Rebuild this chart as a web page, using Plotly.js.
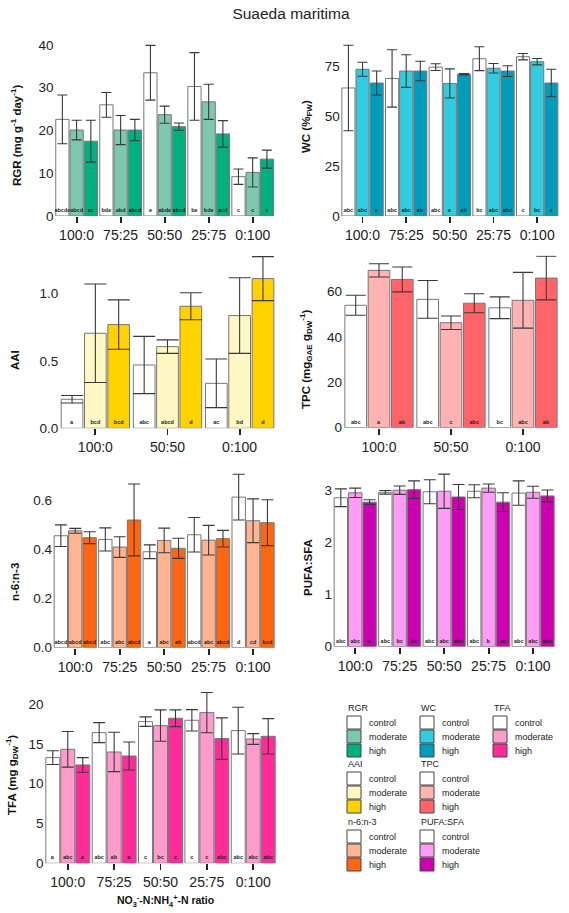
<!DOCTYPE html>
<html>
<head>
<meta charset="utf-8">
<script src="https://cdn.plot.ly/plotly-3.0.1.min.js"></script>
<style>
  html, body { margin: 0; padding: 0; background: #fff; }
  #chart { width: 569px; height: 913px; }
</style>
</head>
<body>
<div id="chart"></div>
<script>
const W = 569, H = 913;

// categories
const groups5 = ['100:0', '75:25', '50:50', '25:75', '0:100'];
const groups3 = ['100:0', '50:50', '0:100'];
const levels = ['control', 'moderate', 'high'];

// each variable: rows = control, moderate, high
const rgrMean = [[22.6, 26.0, 33.5, 30.3, 9.2], [20.1, 20.1, 23.7, 26.7, 10.2], [17.5, 20.1, 20.9, 19.2, 13.3]];
const rgrErr = [[5.7, 2.9, 6.4, 7.9, 1.8], [2.3, 3.4, 2.0, 4.1, 3.4], [4.9, 2.5, 0.85, 3.1, 2.1]];
const rgrLetters = [['abcde', 'bde', 'e', 'be', 'c'], ['abcd', 'abd', 'abde', 'bde', 'c'], ['ac', 'abcd', 'abcd', 'acd', 'c']];

const wcMean = [[64.3, 69.1, 74.8, 79.0, 80.0], [73.7, 72.8, 66.6, 74.2, 77.5], [66.8, 72.8, 71.2, 72.8, 66.8]];
const wcErr = [[21.5, 14.4, 1.7, 6.0, 1.6], [3.5, 8.2, 7.3, 2.4, 1.6], [6.0, 4.9, 0.3, 2.7, 6.9]];
const wcLetters = [['abc', 'abc', 'abc', 'bc', 'c'], ['abc', 'abc', 'a', 'abc', 'bc'], ['a', 'ab', 'ab', 'abc', 'a']];

const aaiMean = [[0.215, 0.469, 0.333], [0.704, 0.605, 0.835], [0.768, 0.904, 1.109]];
const aaiErr = [[0.028, 0.212, 0.18], [0.365, 0.05, 0.28], [0.183, 0.1, 0.163]];
const aaiLetters = [['a', 'abc', 'ac'], ['bcd', 'abcd', 'bd'], ['bcd', 'd', 'd']];

const tpcMean = [[54.0, 56.6, 52.9], [69.4, 46.3, 56.2], [65.4, 54.9, 66.0]];
const tpcErr = [[4.4, 8.3, 4.8], [2.9, 3.0, 12.3], [5.5, 4.2, 9.6]];
const tpcLetters = [['abc', 'abc', 'bc'], ['a', 'c', 'abc'], ['ab', 'abc', 'ab']];

const n6n3Mean = [[0.455, 0.440, 0.390, 0.459, 0.612], [0.475, 0.409, 0.436, 0.437, 0.516], [0.447, 0.519, 0.404, 0.443, 0.508]];
const n6n3Err = [[0.044, 0.047, 0.028, 0.070, 0.093], [0.010, 0.042, 0.050, 0.060, 0.089], [0.024, 0.146, 0.041, 0.034, 0.093]];
const n6n3Letters = [['abcd', 'abc', 'a', 'abcd', 'd'], ['abcd', 'abc', 'abc', 'abc', 'cd'], ['abcd', 'abcd', 'ab', 'abcd', 'bcd']];

const pufaMean = [[2.865, 2.97, 2.98, 2.99, 2.955], [2.96, 3.01, 2.99, 3.05, 2.97], [2.78, 3.02, 2.88, 2.78, 2.90]];
const pufaErr = [[0.17, 0.035, 0.23, 0.125, 0.235], [0.09, 0.08, 0.33, 0.08, 0.115], [0.045, 0.17, 0.24, 0.18, 0.115]];
const pufaLetters = [['abc', 'abc', 'abc', 'abc', 'abc'], ['abc', 'bc', 'abc', 'b', 'abc'], ['a', 'bc', 'abc', 'ac', 'abc']];

const tfaMean = [[13.26, 16.40, 17.78, 17.95, 16.65], [14.31, 13.97, 17.28, 18.91, 15.6], [12.34, 13.47, 18.2, 15.65, 15.94]];
const tfaErr = [[0.86, 1.26, 0.6, 1.34, 2.93], [2.24, 2.47, 1.97, 2.53, 0.67], [0.92, 1.76, 1.05, 2.6, 2.22]];
const tfaLetters = [['a', 'abc', 'c', 'c', 'abc'], ['abc', 'ab', 'bc', 'c', 'abc'], ['a', 'a', 'c', 'abc', 'abc']];

// colours per variable: control, moderate, high
const rgrColors = ['#ffffff', '#7fc8b0', '#00b07f'];
const wcColors = ['#ffffff', '#33cbe0', '#009cbc'];
const aaiColors = ['#ffffff', '#fff8c4', '#ffd200'];
const tpcColors = ['#ffffff', '#ffb3b3', '#ff6468'];
const n6n3Colors = ['#ffffff', '#ffb592', '#ff6614'];
const pufaColors = ['#ffffff', '#ff9cf5', '#cc00b0'];
const tfaColors = ['#ffffff', '#ff9ccc', '#ff2b98'];

const FONT = 'Liberation Sans, Arial, sans-serif';

// pixel helpers (margins are zero, so paper == page)
const px = v => v / W;
const py = v => 1 - v / H;

// panel geometry: plot area in page pixels [left, right, top, bottom]
const panels = [
    {name: 'RGR', cats: groups5, mean: rgrMean, err: rgrErr, letters: rgrLetters, colors: rgrColors,
     box: [54.6, 274.7, 40.7, 216], range: [0, 41], tickvals: [0, 10, 20, 30, 40], fmt: '',
     title: '<b>RGR (mg g<sup>-1</sup> day<sup>-1</sup>)</b>', tpos: [16, 136], cap: 5},
    {name: 'WC', cats: groups5, mean: wcMean, err: wcErr, letters: wcLetters, colors: wcColors,
     box: [340.7, 559, 40.8, 216], range: [0, 88], tickvals: [0, 25, 50, 75], fmt: '',
     title: '<b>WC (%<sub>FW</sub>)</b>', tpos: [307, 127], cap: 5},
    {name: 'AAI', cats: groups3, mean: aaiMean, err: aaiErr, letters: aaiLetters, colors: aaiColors,
     box: [59.3, 275.7, 255.5, 428.3], range: [0, 1.28], tickvals: [0, 0.5, 1.0], fmt: '.1f',
     title: '<b>AAI</b>', tpos: [15, 360], cap: 11},
    {name: 'TPC', cats: groups3, mean: tpcMean, err: tpcErr, letters: tpcLetters, colors: tpcColors,
     box: [343, 559, 255.4, 427.7], range: [0, 76], tickvals: [0, 20, 40, 60], fmt: '',
     title: '<b>TPC (mg<sub>GAE</sub> g<sub>DW</sub><sup>-1</sup>)</b>', tpos: [306, 359], cap: 10},
    {name: 'n-6:n-3', cats: groups5, mean: n6n3Mean, err: n6n3Err, letters: n6n3Letters, colors: n6n3Colors,
     box: [53, 275.3, 473, 647.7], range: [0, 0.71], tickvals: [0, 0.2, 0.4, 0.6], fmt: '.1f',
     title: '<b>n-6:n-3</b>', tpos: [15, 582], cap: 6},
    {name: 'PUFA:SFA', cats: groups5, mean: pufaMean, err: pufaErr, letters: pufaLetters, colors: pufaColors,
     box: [333, 555.3, 472, 646.7], range: [0, 3.36], tickvals: [0, 1, 2, 3], fmt: '',
     title: '<b>PUFA:SFA</b>', tpos: [308, 568], cap: 6},
    {name: 'TFA', cats: groups5, mean: tfaMean, err: tfaErr, letters: tfaLetters, colors: tfaColors,
     box: [44.6, 276.4, 688.8, 863.3], range: [0, 21.9], tickvals: [0, 5, 10, 15, 20], fmt: '',
     title: '<b>TFA (mg g<sub>DW</sub><sup>-1</sup>)</b>', tpos: [12, 775], cap: 6},
];

const traces = [];
const layout = {
    width: W, height: H,
    margin: {l: 0, r: 0, t: 0, b: 0},
    paper_bgcolor: '#fff', plot_bgcolor: 'rgba(0,0,0,0)',
    font: {family: FONT, color: '#222'},
    showlegend: false,
    barmode: 'group', bargap: 0.03, bargroupgap: 0.07,
    title: {text: 'Suaeda maritima', x: px(291), y: py(14), xref: 'paper', yref: 'paper',
            xanchor: 'center', yanchor: 'middle', font: {size: 15.5, color: '#222'}},
    annotations: [],
    shapes: []
};

panels.forEach((p, i) => {
    const n = i === 0 ? '' : String(i + 1);
    const [l, r, t, b] = p.box;
    layout['xaxis' + n] = {
        domain: [px(l), px(r)], anchor: 'y' + n, type: 'category',
        showline: false, zeroline: false, showgrid: false,
        ticks: 'outside', ticklen: 6, tickwidth: 1.8, tickcolor: '#222',
        tickfont: {size: 14, color: '#222'}, fixedrange: true
    };
    layout['yaxis' + n] = {
        domain: [py(b), py(t)], anchor: 'x' + n, range: p.range,
        showline: false, zeroline: false, showgrid: false, ticks: '',
        tickvals: p.tickvals, tickformat: p.fmt,
        tickfont: {size: 13.5, color: '#222'}, fixedrange: true
    };
    levels.forEach((lev, k) => {
        traces.push({
            type: 'bar', name: lev, x: p.cats, y: p.mean[k],
            xaxis: 'x' + n, yaxis: 'y' + n,
            marker: {color: p.colors[k], line: {color: '#777', width: 1}},
            error_y: {type: 'data', array: p.err[k], visible: true, color: '#3a3a3a', thickness: 1.1, width: p.cap},
            text: p.letters[k], textposition: 'inside', insidetextanchor: 'start', textangle: 0,
            constraintext: 'none', cliponaxis: false,
            textfont: {size: 5.5, color: '#222', weight: 'bold'},
            hoverinfo: 'skip'
        });
    });
    layout.annotations.push({
        text: p.title, textangle: -90, xref: 'paper', yref: 'paper',
        x: px(p.tpos[0]), y: py(p.tpos[1]), xanchor: 'center', yanchor: 'middle',
        showarrow: false, font: {size: 11.5, color: '#111'}
    });
});

layout.annotations.push({
    text: '<b>NO<sub>3</sub><sup>-</sup>-N:NH<sub>4</sub><sup>+</sup>-N ratio</b>',
    xref: 'paper', yref: 'paper', x: px(165), y: py(901), xanchor: 'center', yanchor: 'middle',
    showarrow: false, font: {size: 10.5, color: '#111'}
});

// legend blocks drawn as swatches + labels: [panel index, left px, title y px]
const legendBlocks = [[0, 347, 708], [1, 420, 708], [6, 493, 708], [2, 347, 764], [3, 420, 764], [4, 347, 822], [5, 420, 822]];
legendBlocks.forEach(([pi, x0, ty]) => {
    const p = panels[pi];
    layout.annotations.push({
        text: p.name, xref: 'paper', yref: 'paper', x: px(x0 - 1), y: py(ty),
        xanchor: 'left', yanchor: 'middle', showarrow: false, font: {size: 9, color: '#222'}
    });
    levels.forEach((lev, k) => {
        const top = ty + 8 + k * 14;
        layout.shapes.push({
            type: 'rect', xref: 'paper', yref: 'paper',
            x0: px(x0), x1: px(x0 + 14), y0: py(top + 13), y1: py(top),
            fillcolor: p.colors[k], line: {color: '#444', width: 1}
        });
        layout.annotations.push({
            text: lev, xref: 'paper', yref: 'paper', x: px(x0 + 20), y: py(top + 6.5),
            xanchor: 'left', yanchor: 'middle', showarrow: false, font: {size: 9, color: '#222'}
        });
    });
});

Plotly.newPlot('chart', traces, layout, {displayModeBar: false, staticPlot: true});
</script>
</body>
</html>
